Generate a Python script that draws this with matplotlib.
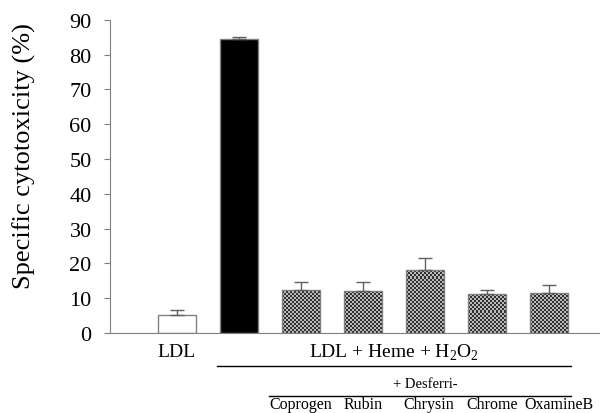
import matplotlib
matplotlib.use("Agg")
from matplotlib import pyplot as plt
import numpy as np

plt.rcParams['font.family'] = 'Liberation Serif'
plt.rcParams['mathtext.fontset'] = 'custom'
plt.rcParams['mathtext.rm'] = 'Liberation Serif'

# data
groups = ['LDL', 'LDL+Heme+H2O2', 'Coprogen', 'Rubin', 'Chrysin', 'Chrome', 'OxamineB']
values = [5.3, 84.6, 12.3, 12.0, 18.2, 11.2, 11.4]
errors = [1.3, 0.4, 2.3, 2.6, 3.4, 1.2, 2.4]
desferri = ['Coprogen', 'Rubin', 'Chrysin', 'Chrome', 'OxamineB']
label_shift = [0, 0, 0.06, 0.08, 0.16]  # small nudges so names don't touch

x = np.arange(len(groups))
w = 0.61

fig = plt.figure(figsize=(6, 4.14), dpi=100)
ax = fig.add_axes([0.183, 0.193, 0.817, 0.757])

# white and black bars
ax.bar(x[:2], values[:2], w, color=['white', 'black'], edgecolor='#808080', linewidth=1, zorder=2)
# checkered bars: texture clipped to each bar
bars = ax.bar(x[2:], values[2:], w, fill=False, edgecolor='#808080', linewidth=1, zorder=3)
cell_x = 2 / 62.0
cell_y = 2 / 3.484
for b in bars:
    x0, y0 = b.get_x(), b.get_y()
    bw, bh = b.get_width(), b.get_height()
    nx = int(np.ceil(bw / cell_x))
    ny = int(np.ceil(bh / cell_y))
    chk = (np.add.outer(np.arange(ny), np.arange(nx)) % 2).astype(float)
    im = ax.imshow(chk, cmap='gray', vmin=-0.35, vmax=1.5, interpolation='nearest',
                   extent=[x0, x0 + nx * cell_x, y0, y0 + ny * cell_y],
                   origin='lower', aspect='auto', zorder=2)
    im.set_clip_path(b)

ax.errorbar(x, values, yerr=[np.zeros(len(x)), errors], fmt='none', ecolor='#606060',
            elinewidth=1, capsize=5, capthick=1, zorder=4)

ax.set_ylim(0, 90)
ax.set_xlim(-1.08, 6.82)
ax.set_yticks(range(0, 91, 10))
ax.set_xticks([])
ax.spines['top'].set_visible(False)
ax.spines['right'].set_visible(False)
ax.spines['left'].set_color('#808080')
ax.spines['bottom'].set_color('#808080')
ax.tick_params(axis='y', direction='out', length=4, color='#808080', labelsize=16, pad=9)
ax.set_ylabel('Specific cytotoxicity (%)', fontsize=19)
ax.yaxis.set_label_coords(-0.15, 0.568)

# labels and brackets under the axis
trans = ax.get_xaxis_transform()
def yfrac(py):
    return (334 - py) / 313.4

ax.text(0, yfrac(352), 'LDL', ha='center', va='center', fontsize=14, transform=trans)
ax.text(3.5, yfrac(353), r'LDL + Heme + H$_2$O$_2$', ha='center', va='center', fontsize=14, transform=trans)
ax.plot([0.65, 6.35], [yfrac(367)] * 2, color='black', lw=1, transform=trans, clip_on=False)
ax.text(4.0, yfrac(384), '+ Desferri-', ha='center', va='center', fontsize=10.5, transform=trans)
ax.plot([1.48, 6.35], [yfrac(397)] * 2, color='black', lw=1, transform=trans, clip_on=False)
for i, name in enumerate(desferri):
    ax.text(x[i + 2] + label_shift[i], yfrac(413), name, ha='center', va='bottom',
            fontsize=11.5, transform=trans)

fig.savefig('out.png', dpi=100)
